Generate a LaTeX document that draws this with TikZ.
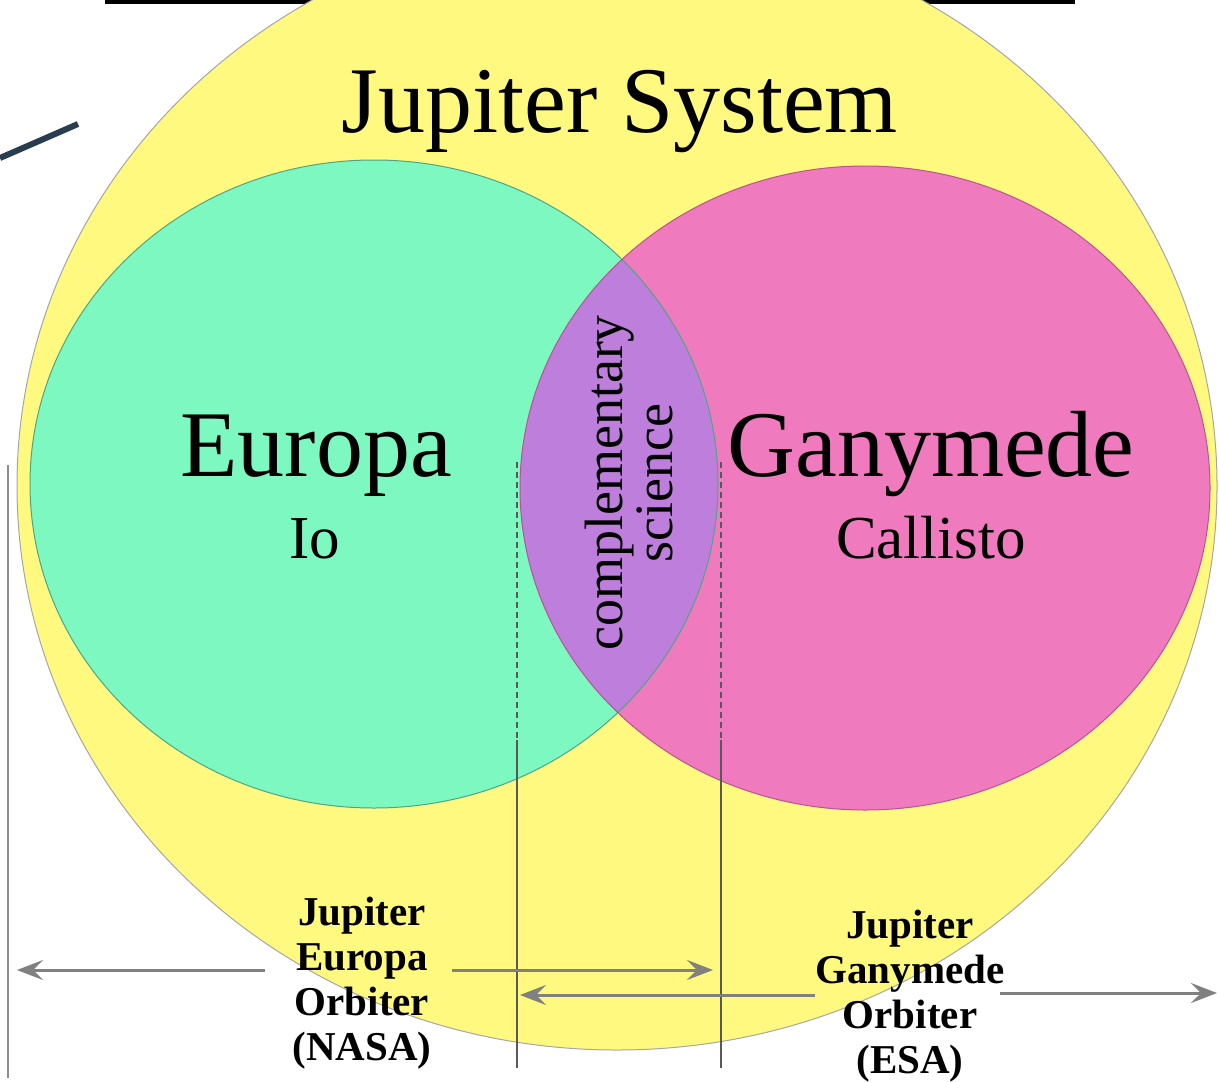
\documentclass[tikz,border=0pt]{standalone}
\usepackage{fontspec}
\setmainfont{Liberation Serif}
\usetikzlibrary{arrows.meta}
\definecolor{sysyellow}{RGB}{255,249,127}
\definecolor{europagreen}{RGB}{124,248,192}
\definecolor{ganypink}{RGB}{239,122,189}
\definecolor{sharedviolet}{RGB}{190,126,220}
\definecolor{arrowgray}{RGB}{128,128,128}

\begin{document}
\begin{tikzpicture}[x=0.5pt, y=-0.5pt,
    orbarrow/.style={-{Stealth[length=13pt, width=10pt, inset=5pt]}, line width=1.5pt, draw=arrowgray, fill=arrowgray},
    guide/.style={line width=0.6pt, draw=black!65},
    bigtext/.style={font=\fontsize{47}{50}\selectfont, anchor=base},
    moontext/.style={font=\fontsize{30.5}{33}\selectfont, anchor=base},
    orbtext/.style={font=\fontsize{20.5}{22.5}\selectfont\bfseries, align=center, anchor=north, inner sep=0pt}]
  \useasboundingbox (0,0) rectangle (1219,1081);

  \draw[line width=2pt] (105,2) -- (1075,2);
  \draw[line width=3pt, draw={rgb,255:red,40;green,62;blue,78}] (0,158) -- (78,124);

  \draw[fill=sysyellow, draw=black!35, line width=0.5pt] (617,486) ellipse [x radius=600, y radius=564];
  \fill[europagreen] (374,484) ellipse [x radius=344, y radius=324];
  \fill[ganypink] (865,488) ellipse [x radius=345, y radius=322];
  \begin{scope}
    \clip (374,484) ellipse [x radius=344, y radius=324];
    \fill[sharedviolet] (865,488) ellipse [x radius=345, y radius=322];
  \end{scope}
  \draw[draw={rgb,255:red,80;green,165;blue,135}, line width=0.5pt] (374,484) ellipse [x radius=344, y radius=324];
  \draw[draw={rgb,255:red,185;green,85;blue,145}, line width=0.5pt] (865,488) ellipse [x radius=345, y radius=322];

  \node[bigtext] (system)   at (620,133) {Jupiter System};
  \node[bigtext] (europa)   at (316,476) {Europa};
  \node[moontext] (io)      at (315,558) {Io};
  \node[bigtext] (ganymede) at (931,476) {Ganymede};
  \node[moontext] (callisto) at (931,558) {Callisto};
  \node[rotate=90, align=center, inner sep=0pt, font=\fontsize{27}{25}\selectfont] (shared) at (629,483) {complementary\\science};

  \coordinate (lefttop) at (8,465);
  \coordinate (leftbot) at (8,1078);
  \coordinate (guideatop) at (517,462);
  \coordinate (guideamid) at (517,740);
  \coordinate (guideabot) at (517,1068);
  \coordinate (guidebtop) at (721,462);
  \coordinate (guidebmid) at (721,740);
  \coordinate (guidebbot) at (721,1068);
  \draw[line width=1pt, draw=black!45] (lefttop) -- (leftbot);
  \draw[guide, dash pattern=on 3pt off 2pt] (guideatop) -- (guideamid);
  \draw[guide] (guideamid) -- (guideabot);
  \draw[guide, dash pattern=on 3pt off 2pt] (guidebtop) -- (guidebmid);
  \draw[guide] (guidebmid) -- (guidebbot);

  \node[orbtext] (jeo) at (362,897) {Jupiter\\Europa\\Orbiter\\(NASA)};
  \node[orbtext] (jgo) at (910,910) {Jupiter\\Ganymede\\Orbiter\\(ESA)};

  \coordinate (jeostartl) at (265,970);
  \coordinate (jeoendl)   at (17,970);
  \coordinate (jeostartr) at (452,970);
  \coordinate (jeoendr)   at (713,970);
  \coordinate (jgostartl) at (815,995);
  \coordinate (jgoendl)   at (520,995);
  \coordinate (jgostartr) at (1000,993);
  \coordinate (jgoendr)   at (1217,993);
  \draw[orbarrow] (jeostartl) -- (jeoendl);
  \draw[orbarrow] (jeostartr) -- (jeoendr);
  \draw[orbarrow] (jgostartl) -- (jgoendl);
  \draw[orbarrow] (jgostartr) -- (jgoendr);
\end{tikzpicture}
\end{document}
